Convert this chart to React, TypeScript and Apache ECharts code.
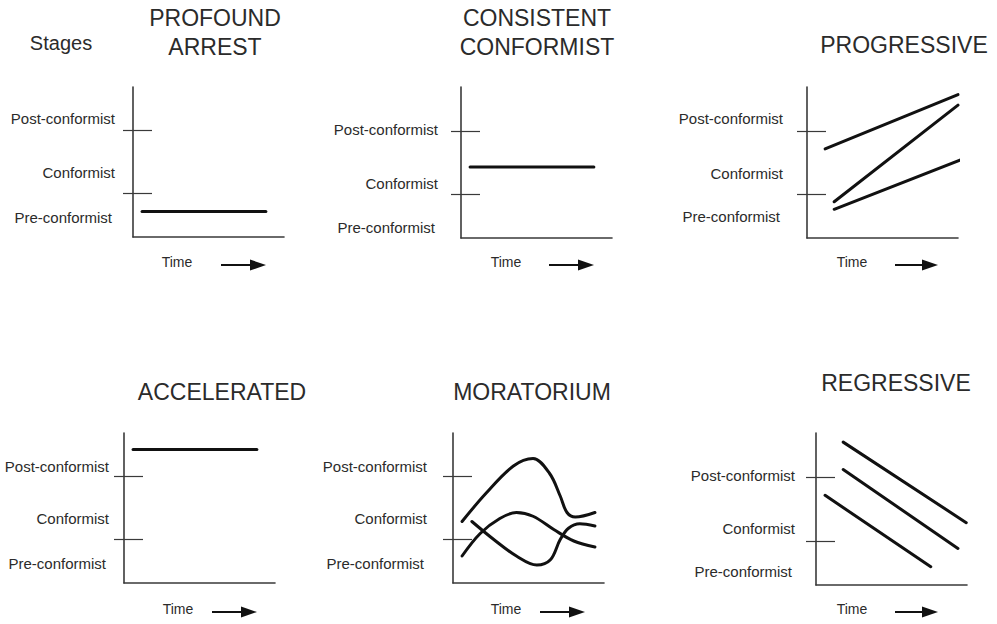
import React, { useEffect, useRef } from "react";
import * as echarts from "echarts";

// ---------- data ----------
const STAGES = ["Pre-conformist", "Conformist", "Post-conformist"];
const PANEL_TITLES = [
  ["PROFOUND", "ARREST"],
  ["CONSISTENT", "CONFORMIST"],
  ["PROGRESSIVE"],
  ["ACCELERATED"],
  ["MORATORIUM"],
  ["REGRESSIVE"],
];
const TICK_LEVELS = [29, 71];
// value positions of the three stage labels in each panel (Pre, Conformist, Post)
const LABEL_LEVELS = [
  [13, 43, 79],
  [7, 36, 72],
  [14, 43, 79],
  [13, 43, 78],
  [13, 43, 78],
  [9, 37, 72],
];
const X_LABEL = "Time";
const Y_TITLE = "Stages";

const profoundArrest = [[[6, 17], [88, 17]]];
const consistentConformist = [[[6, 47], [88, 47]]];
const progressive = [
  [[12, 59], [100, 95]],
  [[18, 24], [100, 88]],
  [[18, 19], [105, 53]],
];
const accelerated = [[[6, 89], [88, 89]]];
const moratorium = [
  [[6, 41], [22, 60], [40, 78], [53, 83], [64, 73], [71, 58], [75.5, 47], [81, 44], [94, 47]],
  [[6, 18], [18, 33], [31, 43], [42, 47], [53, 44.5], [67, 35.5], [80, 28], [94, 24]],
  [[12.5, 41], [27, 29], [42, 18], [55.5, 12], [64.5, 15.5], [71, 29], [76.5, 36.5], [84, 39.5], [94, 38]],
];
const regressive = [
  [[18, 94], [99.5, 41]],
  [[18, 76], [94, 24]],
  [[6, 59], [76, 12]],
];
const PANEL_SERIES = [profoundArrest, consistentConformist, progressive, accelerated, moratorium, regressive];

// ---------- layout (pixels) ----------
const LAYOUT = [
  { left: 133, top: 87, width: 151, height: 150, gap: 18, titleX: 215, titleY: [18, 47], timeX: 177, timeY: 262, arrow: [221, 266] },
  { left: 461, top: 87, width: 151, height: 151, gap: 23, titleX: 537, titleY: [18, 47], timeX: 506, timeY: 262, arrow: [549, 594] },
  { left: 807, top: 87, width: 151, height: 151, gap: 24, titleX: 904, titleY: [45], timeX: 852, timeY: 262, arrow: [895, 938] },
  { left: 124, top: 433, width: 151, height: 150, gap: 15, titleX: 222, titleY: [392], timeX: 178, timeY: 609, arrow: [212, 257] },
  { left: 453, top: 433, width: 151, height: 150, gap: 26, titleX: 532, titleY: [392], timeX: 506, timeY: 609, arrow: [540, 585] },
  { left: 816, top: 433, width: 151, height: 152, gap: 21, titleX: 896, titleY: [383], timeX: 852, timeY: 609, arrow: [895, 938] },
];

const FONT = '"Liberation Sans", Arial, Helvetica, sans-serif';
const TEXT = "#2b2b2b";
const AXIS = "#3a3a3a";
const INK = "#111";

function textEl(text: string, x: number, y: number, size: number) {
  return {
    type: "text",
    silent: true,
    style: {
      text,
      x,
      y,
      fill: TEXT,
      fontSize: size,
      fontFamily: FONT,
      align: "center",
      verticalAlign: "middle",
      textAlign: "center",
      textVerticalAlign: "middle",
    },
  };
}

export default function App() {
  const ref = useRef<HTMLDivElement>(null);

  useEffect(() => {
    if (!ref.current) return;
    const chart = echarts.init(ref.current, null, { renderer: "svg" });

    const grid: any[] = [];
    const xAxis: any[] = [];
    const yAxis: any[] = [];
    const series: any[] = [];
    const graphic: any[] = [];

    LAYOUT.forEach((L, i) => {
      grid.push({ left: L.left, top: L.top, width: L.width, height: L.height, containLabel: false });
      xAxis.push({
        gridIndex: i,
        type: "value",
        min: 0,
        max: 100,
        axisLine: { show: true, onZero: false, lineStyle: { color: AXIS, width: 1.6 } },
        axisTick: { show: false },
        axisLabel: { show: false },
        splitLine: { show: false },
      });
      const levels = LABEL_LEVELS[i];
      yAxis.push({
        gridIndex: i,
        type: "value",
        position: "left",
        min: 0,
        max: 100,
        axisLine: { show: true, onZero: false, lineStyle: { color: AXIS, width: 1.6 } },
        axisTick: { show: true, length: 10, customValues: TICK_LEVELS, lineStyle: { color: AXIS, width: 1.2 } },
        axisLabel: {
          show: true,
          customValues: levels,
          margin: L.gap,
          color: TEXT,
          fontSize: 15,
          fontFamily: FONT,
          formatter: (v: number) => {
            const idx = levels.indexOf(v);
            const name = STAGES[idx] ?? "";
            return idx === 0 ? `{pre|${name}}` : name;
          },
          rich: { pre: { color: TEXT, fontSize: 15, fontFamily: FONT, padding: [0, 3, 0, 0] } },
        },
        splitLine: { show: false },
      });
      yAxis.push({
        gridIndex: i,
        type: "value",
        position: "left",
        offset: 0,
        min: 0,
        max: 100,
        axisLine: { show: false, onZero: false },
        axisTick: { show: true, inside: true, length: 19, customValues: TICK_LEVELS, lineStyle: { color: AXIS, width: 1.2 } },
        axisLabel: { show: false },
        splitLine: { show: false },
      });

      PANEL_SERIES[i].forEach((pts) => {
        series.push({
          type: "line",
          xAxisIndex: i,
          yAxisIndex: 2 * i,
          data: pts,
          symbol: "none",
          showSymbol: false,
          smooth: i === 4 ? 0.35 : false,
          clip: false,
          silent: true,
          lineStyle: { color: INK, width: 3, cap: "round" },
        });
      });

      PANEL_TITLES[i].forEach((t, k) => graphic.push(textEl(t, L.titleX, L.titleY[k], 23)));
      graphic.push(textEl(X_LABEL, L.timeX, L.timeY, 14));
      const ay = L.timeY + 3;
      graphic.push({
        type: "line",
        silent: true,
        shape: { x1: L.arrow[0], y1: ay, x2: L.arrow[1] - 10, y2: ay },
        style: { stroke: INK, lineWidth: 2 },
      });
      graphic.push({
        type: "polygon",
        silent: true,
        shape: { points: [[L.arrow[1] - 16, ay - 5.5], [L.arrow[1], ay], [L.arrow[1] - 16, ay + 5.5]] },
        style: { fill: INK },
      });
    });

    graphic.push(textEl(Y_TITLE, 61, 43, 20));

    chart.setOption({
      animation: false,
      backgroundColor: "#ffffff",
      grid,
      xAxis,
      yAxis,
      series,
      graphic,
    });

    return () => chart.dispose();
  }, []);

  return (
    <div
      ref={ref}
      style={{ position: "fixed", left: 0, top: 0, width: 997, height: 624, background: "#fff" }}
    />
  );
}
